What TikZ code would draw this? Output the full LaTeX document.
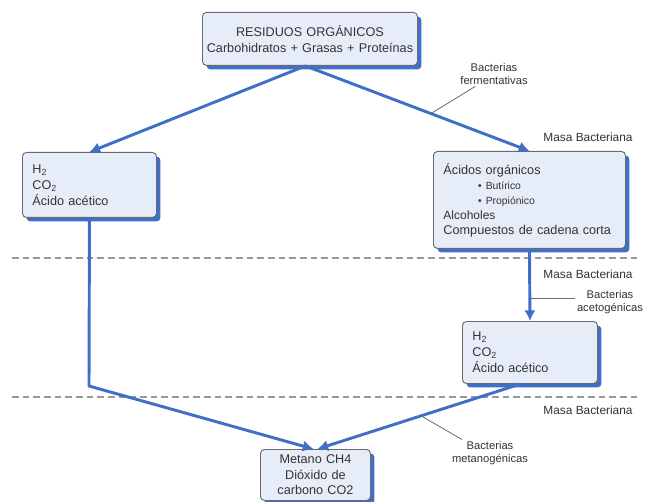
\documentclass[tikz,border=0pt]{standalone}
\usepackage{fontspec}
\setmainfont{Liberation Sans}
\usetikzlibrary{arrows.meta,shadows}
\definecolor{azul}{HTML}{3F6FC6}
\definecolor{fondo}{HTML}{E7EDF8}
\definecolor{borde}{HTML}{6A6A6A}
\definecolor{texto}{HTML}{333333}

\begin{document}
\begin{tikzpicture}
  [x=0.75pt, y=-0.75pt,
   caja/.style={draw=borde, fill=fondo, line width=0.7pt, rounded corners=3pt,
     text=texto, anchor=north west, inner xsep=7.5pt, inner ysep=0pt,
     drop shadow={fill=azul, opacity=1, shadow xshift=3pt, shadow yshift=-3pt},
     font=\fontsize{9.5}{12}\selectfont},
   flecha/.style={draw=azul, line width=2.2pt, line join=round,
     -{Latex[length=8pt,width=8.5pt]}},
   etiq/.style={font=\fontsize{8.4}{10}\selectfont, text=texto, align=center, inner sep=1pt},
   masa/.style={font=\fontsize{8.9}{10}\selectfont, text=texto},
   guia/.style={draw=borde, line width=0.6pt},
   corte/.style={draw=gray!80, line width=1pt, dash pattern=on 5pt off 3pt}]
  \useasboundingbox (0,0) rectangle (646,502);

  % separadores de etapas
  \draw[corte] (12,258) -- (638,258);
  \draw[corte] (12,397) -- (638,397);

  % cajas
  \node[caja, text width=155.25pt, inner xsep=3pt, align=center, minimum height=39.75pt]
    (res) at (202,12) {RESIDUOS ORGÁNICOS\\Carbohidratos + Grasas + Proteínas};
  \node[caja, text width=85.5pt, align=left, minimum height=48.75pt]
    (izq) at (22,152) {H\textsubscript{2}\\CO\textsubscript{2}\\Ácido acético};
  \node[caja, text width=129pt, align=left, minimum height=72.75pt,
    font=\fontsize{9.5}{11.3}\selectfont]
    (der) at (433,151) {Ácidos orgánicos\\
      {\fontsize{7.8}{11.3}\selectfont\hspace*{26pt}\textbullet\hspace{3pt}Butírico}\\
      {\fontsize{7.8}{11.3}\selectfont\hspace*{26pt}\textbullet\hspace{3pt}Propiónico}\\
      {\fontsize{9}{11.3}\selectfont Alcoholes}\\
      Compuestos de cadena corta};
  \node[caja, text width=86.25pt, align=left, minimum height=46.5pt]
    (acet) at (462,321) {H\textsubscript{2}\\CO\textsubscript{2}\\Ácido acético};
  \node[caja, text width=75.5pt, inner xsep=3.5pt, align=center, minimum height=38.25pt,
    font=\fontsize{9.5}{11.6}\selectfont]
    (fin) at (260,449) {Metano CH4\\Dióxido de\\carbono CO2};

  % flechas
  \coordinate (codo) at (89,386);
  \draw[flecha] ([xshift=-3.4pt]res.south) -- (izq.north);
  \draw[flecha] ([xshift=-3.4pt]res.south) -- coordinate[pos=0.56] (pf) (der.north);
  \draw[flecha] (der.south) -- coordinate[pos=0.68] (pa) (acet.north);
  \draw[flecha] (izq.south) -- (codo) -- ([xshift=-1.5pt]fin.north);
  \draw[flecha] ([xshift=-7pt]acet.south) -- coordinate[pos=0.49] (pm) ([xshift=1.5pt]fin.north);

  % etiquetas
  \node[masa] (masa1) at (588,137) {Masa Bacteriana};
  \node[masa] (masa2) at (588,274) {Masa Bacteriana};
  \node[masa] (masa3) at (588,410) {Masa Bacteriana};
  \node[etiq] (ferm) at (494,74) {Bacterias\\fermentativas};
  \node[etiq] (aceto) at (610,302) {Bacterias\\acetogénicas};
  \node[etiq] (metano) at (490,453) {Bacterias\\metanogénicas};
  \draw[guia] ([xshift=-14pt]ferm.south) -- (pf);
  \draw[guia] (pa) -- (pa -| aceto.west);
  \draw[guia] ([xshift=-21pt]metano.north) -- (pm);
\end{tikzpicture}
\end{document}
